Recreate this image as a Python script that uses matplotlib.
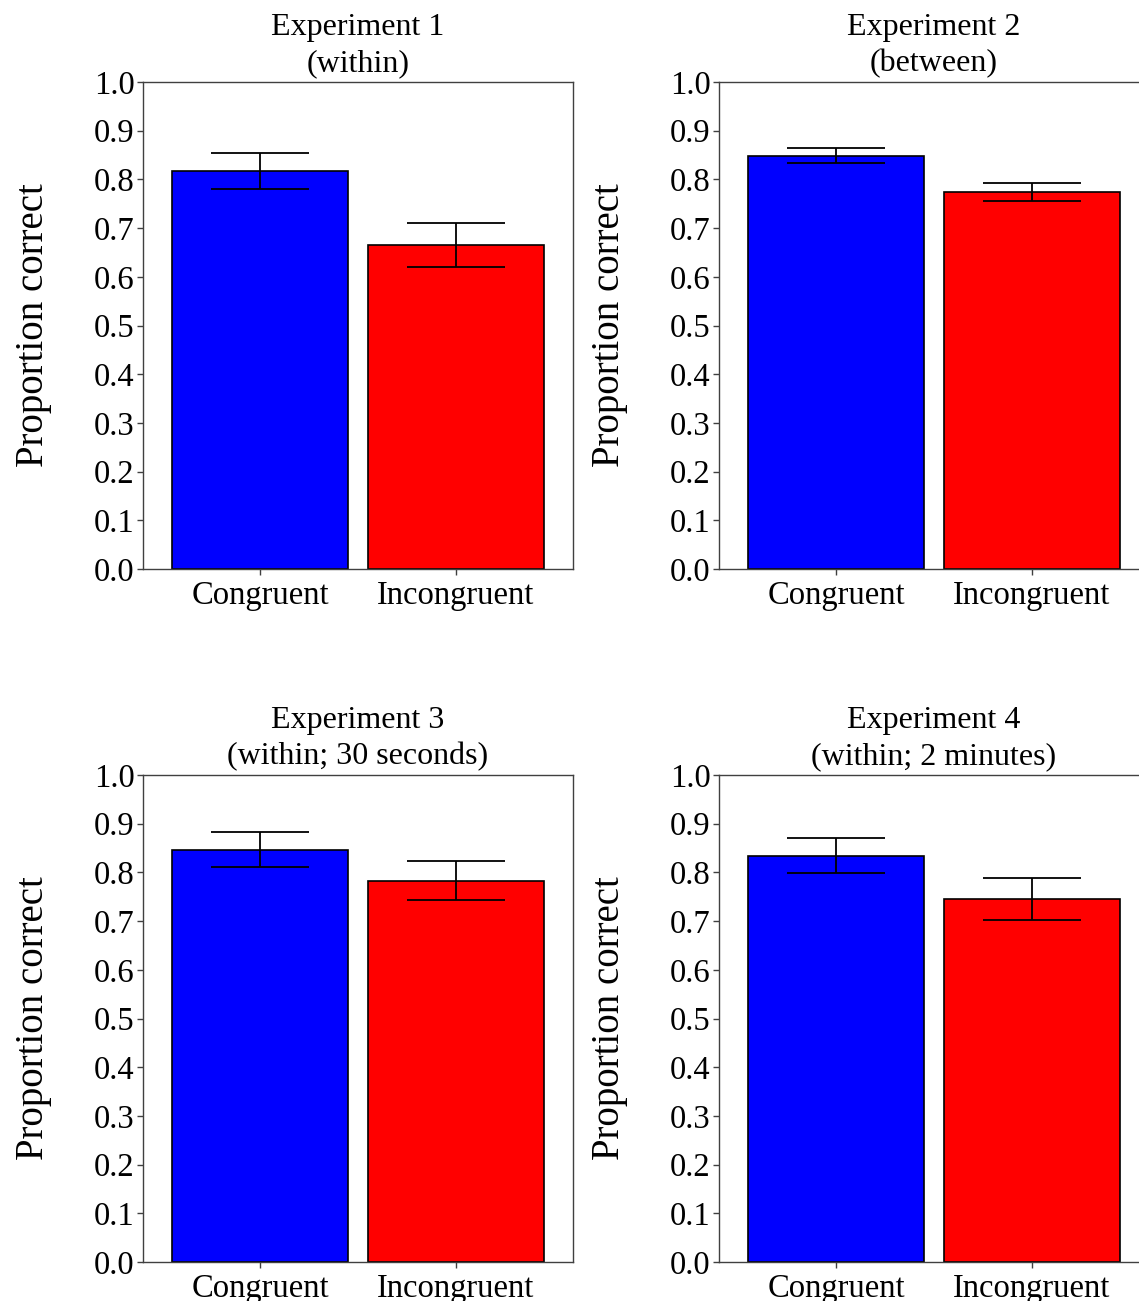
import matplotlib
matplotlib.use("Agg")
import matplotlib.pyplot as plt
import numpy as np

plt.rcParams['font.family'] = ['Liberation Serif', 'DejaVu Serif']

conditions = ["Congruent", "Incongruent"]
bar_colors = ["#0000ff", "#ff0000"]
titles = ["Experiment 1\n(within)", "Experiment 2\n(between)",
          "Experiment 3\n(within; 30 seconds)", "Experiment 4\n(within; 2 minutes)"]
means_exp1 = [0.817, 0.666]
means_exp2 = [0.849, 0.774]
means_exp3 = [0.847, 0.783]
means_exp4 = [0.834, 0.746]
errs_exp1 = [0.037, 0.045]
errs_exp2 = [0.015, 0.018]
errs_exp3 = [0.036, 0.040]
errs_exp4 = [0.036, 0.043]
yticks = [0.0, 0.1, 0.2, 0.3, 0.4, 0.5, 0.6, 0.7, 0.8, 0.9, 1.0]

means = [means_exp1, means_exp2, means_exp3, means_exp4]
errs = [errs_exp1, errs_exp2, errs_exp3, errs_exp4]

W, H = 1139, 1301
fig = plt.figure(figsize=(W / 100, H / 100), dpi=100)

positions = [(143, 82), (719, 82), (143, 775), (719, 775)]
aw, ah = 430, 487
fs = 23.5
spine_col = "#404040"

for i, (px, py) in enumerate(positions):
    ax = fig.add_axes([px / W, 1 - (py + ah) / H, aw / W, ah / H])
    x = np.arange(len(conditions))
    ax.bar(x, means[i], width=0.9, color=bar_colors, edgecolor="black", linewidth=1.2, zorder=2)
    ax.errorbar(x, means[i], yerr=errs[i], fmt="none", ecolor="black", elinewidth=1.3,
                capsize=35, capthick=1.3, zorder=3)
    ax.set_xlim(-0.6, 1.6)
    ax.set_ylim(0, 1.0)
    ax.set_yticks(yticks)
    ax.set_yticklabels([f"{t:.1f}" for t in yticks], fontsize=fs)
    ax.set_xticks(x)
    ax.set_xticklabels(conditions, fontsize=fs)
    ax.set_ylabel("Proportion correct", fontsize=28, labelpad=30)
    ax.set_title(titles[i], fontsize=23, pad=8, linespacing=1.3)
    for s in ax.spines.values():
        s.set_color(spine_col)
        s.set_linewidth(1.0)
    ax.tick_params(axis="both", direction="out", length=4, width=1.0, color=spine_col, pad=2)
    ax.tick_params(axis="x", pad=4)

fig.savefig("out.png", dpi=100)
